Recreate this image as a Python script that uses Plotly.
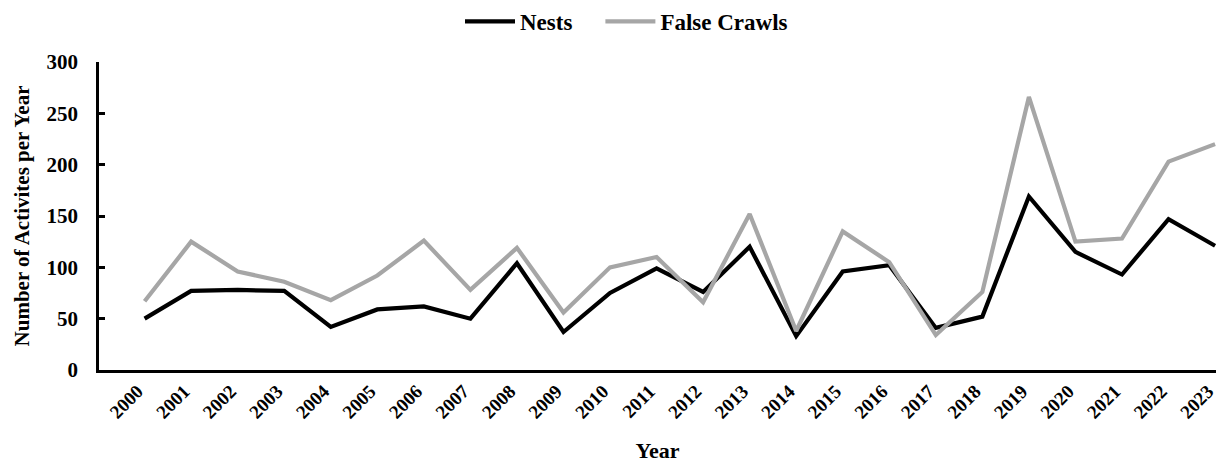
import plotly.graph_objects as go

years = [str(y) for y in range(2000, 2024)]
nests = [50, 77, 78, 77, 42, 59, 62, 50, 104, 37, 75, 99, 76, 120, 33, 96, 102, 41, 52, 169, 115, 93, 147, 121]
false_crawls = [67, 125, 96, 86, 68, 92, 126, 78, 119, 56, 100, 110, 66, 152, 38, 135, 105, 34, 76, 266, 125, 128, 203, 220]
y_ticks = [0, 50, 100, 150, 200, 250, 300]
series_names = ["Nests", "False Crawls"]

FONT = "Liberation Serif"

fig = go.Figure()
fig.add_trace(go.Scatter(x=list(range(len(years))), y=nests, mode="lines",
                         name=series_names[0] + "\u00a0" * 4,
                         line=dict(color="#000000", width=4.2)))
fig.add_trace(go.Scatter(x=list(range(len(years))), y=false_crawls, mode="lines",
                         name=series_names[1],
                         line=dict(color="#a6a6a6", width=4.2)))

fig.update_layout(
    width=1219, height=465,
    margin=dict(l=99, r=3, t=62, b=95, autoexpand=False),
    paper_bgcolor="white", plot_bgcolor="white",
    font=dict(family=FONT, size=20, color="black", weight="bold"),
    showlegend=True,
    legend=dict(orientation="h", x=(460 - 99) / 1117, xanchor="left", y=1.0, yanchor="top",
                yref="container", font=dict(family=FONT, size=23, color="black", weight="bold"),
                itemwidth=50, traceorder="normal", tracegroupgap=0),
    xaxis=dict(
        range=[-0.98, 23.02], tickmode="array", tickvals=list(range(len(years))), ticktext=years,
        tickangle=-45, showgrid=False, zeroline=False, showline=True, linecolor="black",
        linewidth=2.5, ticks="", automargin=False, ticklabeloverflow="allow", ticklabelshift=-7,
        tickfont=dict(family=FONT, size=19, weight="bold"),
        title=dict(text="Year", font=dict(family=FONT, size=22, weight="bold"), standoff=22),
    ),
    yaxis=dict(
        range=[0, 300], tickmode="array", tickvals=y_ticks, showgrid=False, zeroline=False,
        showline=True, linecolor="black", linewidth=2.5, ticks="inside", ticklen=6, tickwidth=2.5,
        tickcolor="black", ticklabelstandoff=14, automargin=False,
        tickfont=dict(family=FONT, size=21, weight="bold"),
        title=dict(text="Number of Activites per Year", font=dict(family=FONT, size=21, weight="bold"), standoff=12),
    ),
)

fig.write_html("out.html", config={"displayModeBar": False},
               post_script="document.body.style.margin='0';document.body.style.padding='0';")
